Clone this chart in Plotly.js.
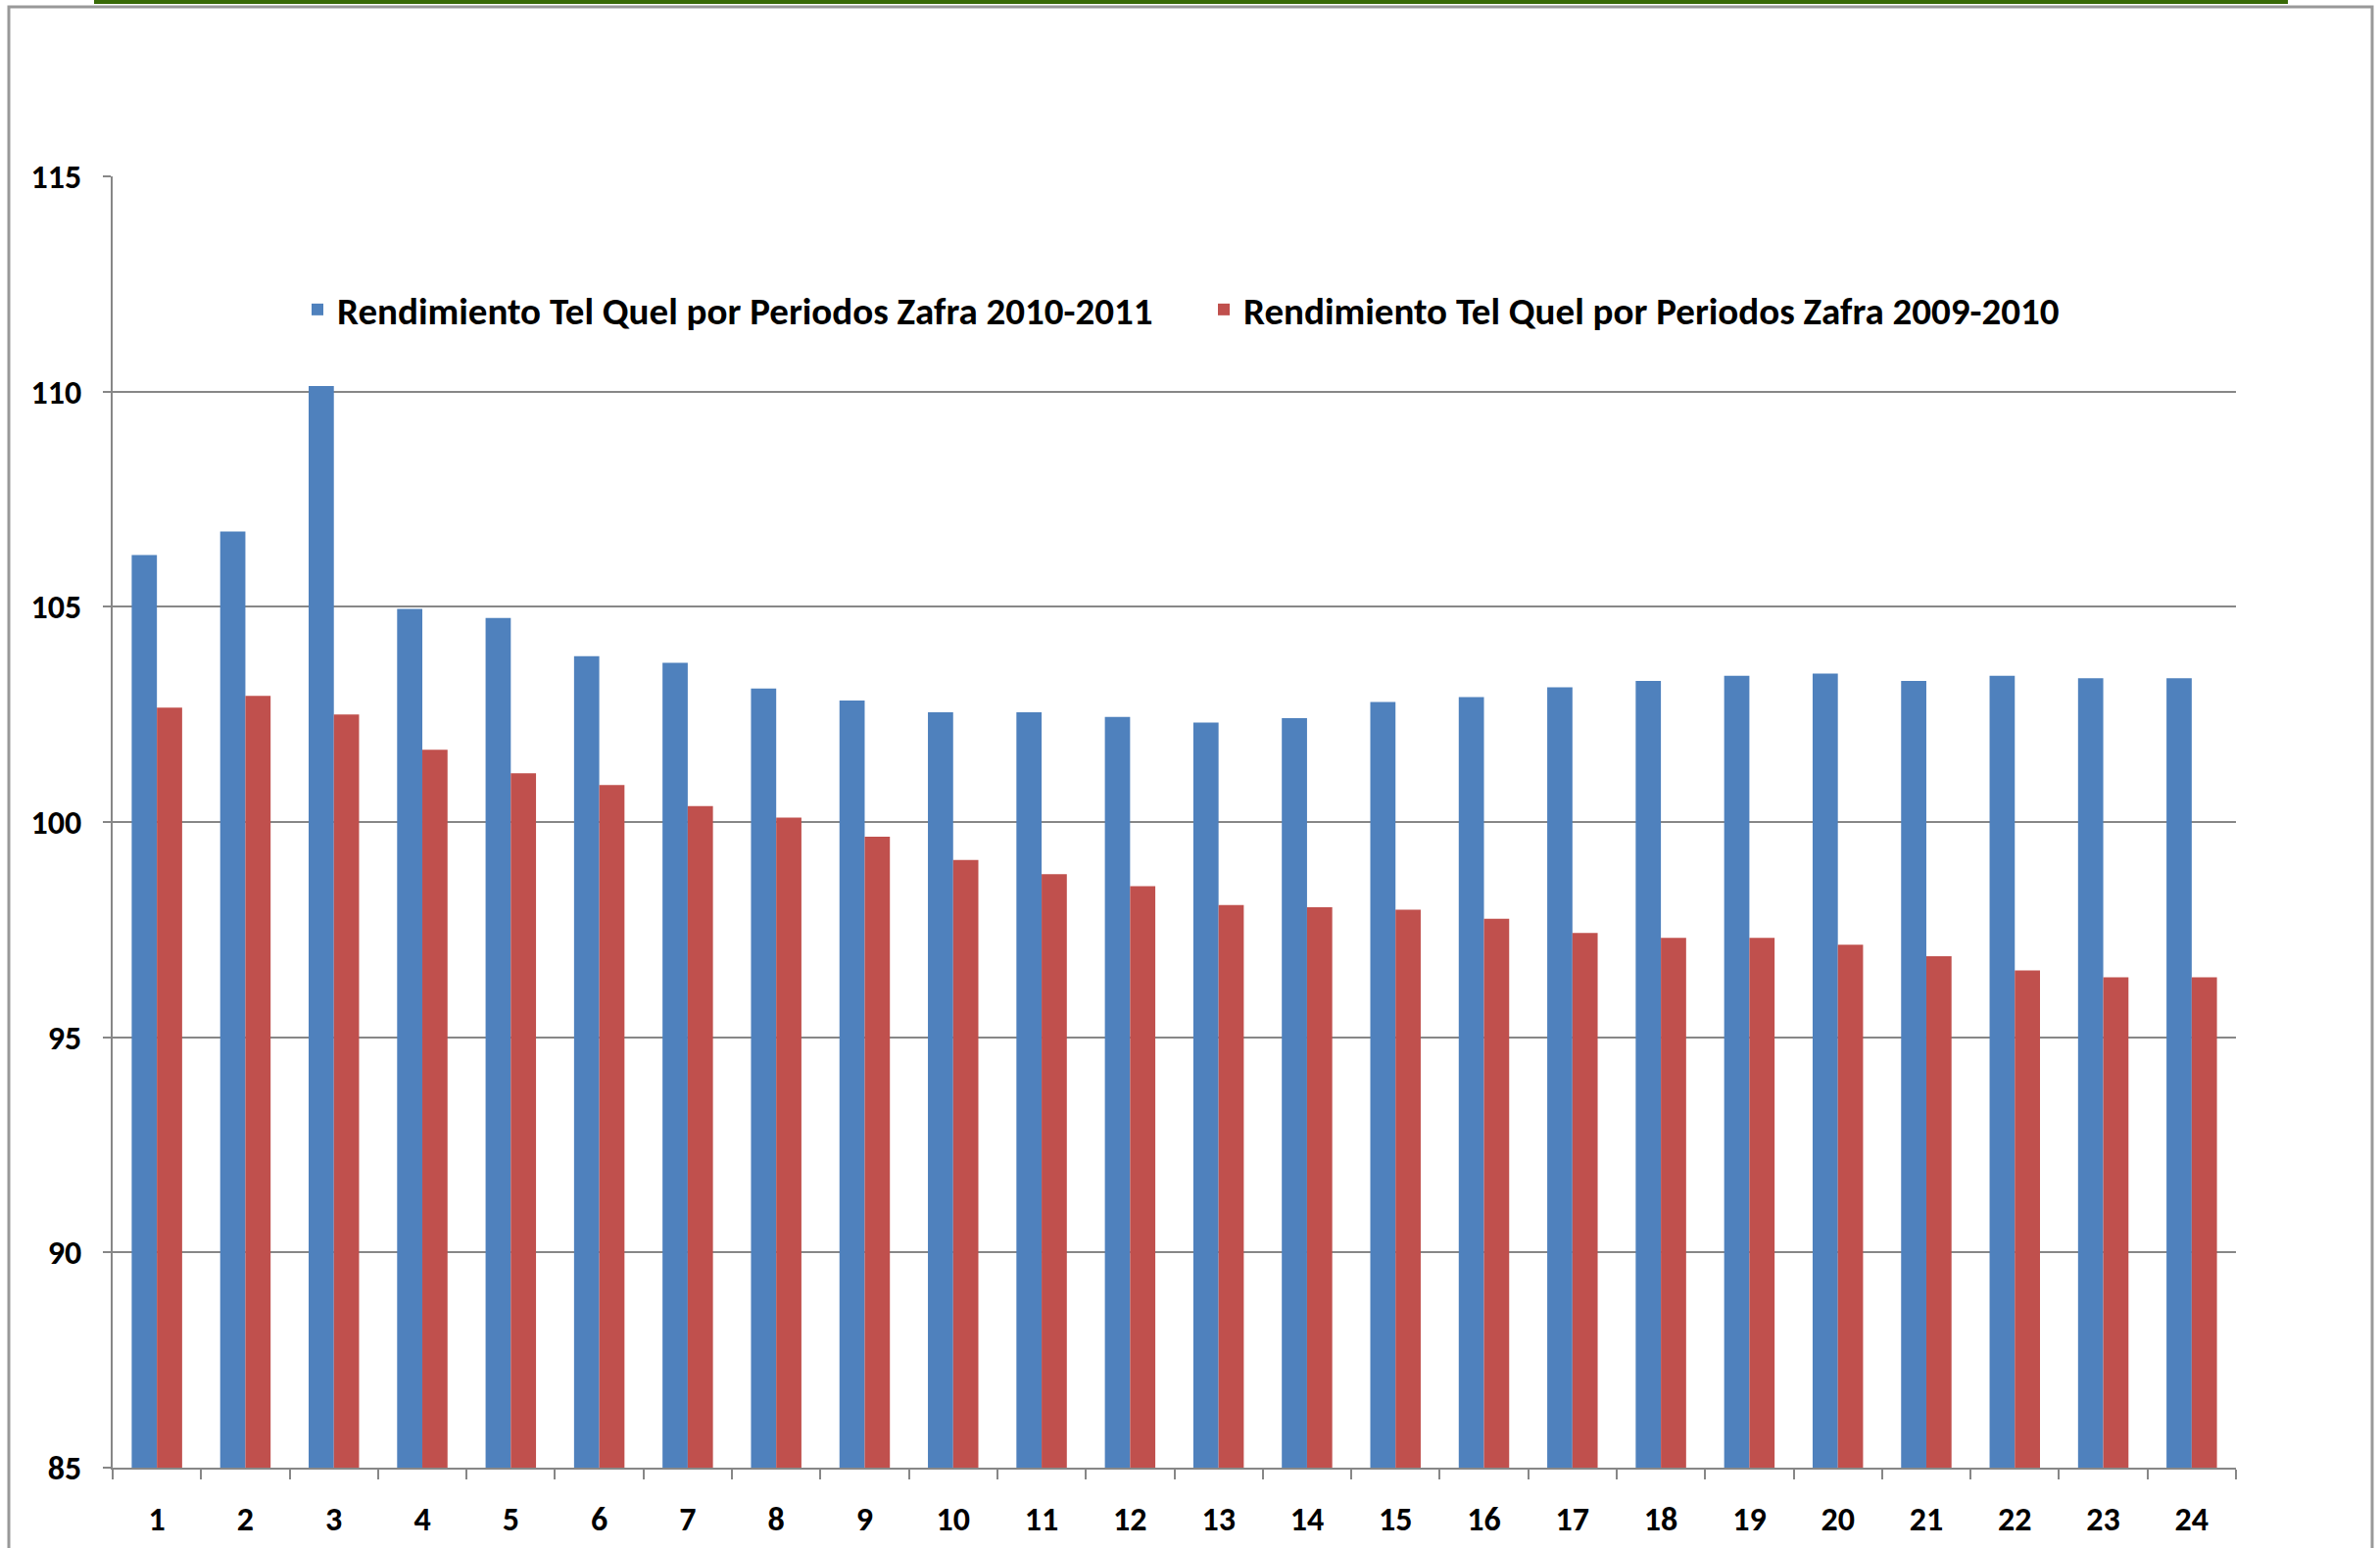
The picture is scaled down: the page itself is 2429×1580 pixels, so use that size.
<!DOCTYPE html>
<html>
<head>
<meta charset="utf-8">
<script src="https://cdn.plot.ly/plotly-3.0.1.min.js"></script>
<style>
  html, body { margin: 0; padding: 0; background: #ffffff; }
  #chart { width: 2429px; height: 1580px; }
</style>
</head>
<body>
<div id="chart"></div>
<script>
// ---- Data ----
var periodos = ["1","2","3","4","5","6","7","8","9","10","11","12","13","14","15","16","17","18","19","20","21","22","23","24"];
var serie2010_2011 = [106.20, 106.75, 110.13, 104.95, 104.74, 103.85, 103.70, 103.10, 102.82, 102.55, 102.55, 102.44,
                      102.31, 102.41, 102.79, 102.90, 103.13, 103.28, 103.40, 103.45, 103.28, 103.40, 103.34, 103.34];
var serie2009_2010 = [102.66, 102.93, 102.50, 101.68, 101.13, 100.86, 100.37, 100.10, 99.66, 99.12, 98.79, 98.51,
                      98.07, 98.02, 97.96, 97.75, 97.42, 97.31, 97.31, 97.15, 96.88, 96.55, 96.39, 96.39];
var nombre2010_2011 = "Rendimiento Tel Quel por Periodos Zafra 2010-2011";
var nombre2009_2010 = "Rendimiento Tel Quel por Periodos Zafra 2009-2010";
var yTicks = [85, 90, 95, 100, 105, 110, 115];

// ---- Layout geometry (pixels) ----
var W = 2429, H = 1580;
var mL = 115, mR = 147, mT = 180, mB = 82;
var pw = W - mL - mR, ph = H - mT - mB;
function px(x) { return (x - mL) / pw; }
function py(y) { return (H - mB - y) / ph; }

var FONT = "Carlito, Lato, 'Open Sans', sans-serif";
var gridCol = "#878787";

var traces = [
  { type: "bar", name: nombre2010_2011, x: periodos, y: serie2010_2011,
    marker: { color: "#4F81BD", line: { width: 0 } } },
  { type: "bar", name: nombre2009_2010, x: periodos, y: serie2009_2010,
    marker: { color: "#C0504D", line: { width: 0 } } }
];

var layout = {
  width: W, height: H,
  margin: { l: mL, r: mR, t: mT, b: mB, pad: 0 },
  paper_bgcolor: "#ffffff",
  plot_bgcolor: "#ffffff",
  barmode: "group",
  bargap: 0.43,
  bargroupgap: 0,
  font: { family: FONT, color: "#000000", size: 34 },
  showlegend: true,
  legend: {
    orientation: "h",
    x: px(304), xanchor: "left",
    y: py(316), yanchor: "middle",
    font: { family: FONT, size: 39, color: "#000000", weight: "bold" },
    bgcolor: "rgba(0,0,0,0)",
    entrywidth: 880,
    itemclick: false
  },
  xaxis: {
    type: "category",
    tickson: "boundaries",
    ticks: "outside", ticklen: 10, tickwidth: 2, tickcolor: gridCol,
    showline: true, linecolor: gridCol, linewidth: 2,
    showgrid: false,
    tickfont: { family: FONT, size: 34, color: "#000000", weight: "bold" },
    ticklabelstandoff: 21,
    fixedrange: true
  },
  yaxis: {
    range: [85, 115],
    tickvals: yTicks,
    ticktext: yTicks.map(String),
    ticks: "outside", ticklen: 8, tickwidth: 2, tickcolor: gridCol,
    showline: true, linecolor: gridCol, linewidth: 2,
    showgrid: true, gridcolor: gridCol, gridwidth: 2,
    zeroline: false,
    tickfont: { family: FONT, size: 34, color: "#000000", weight: "bold" },
    ticklabelstandoff: 15,
    fixedrange: true
  },
  shapes: [
    // outer frame
    { type: "rect", xref: "paper", yref: "paper",
      x0: px(9), x1: px(2421), y0: py(1700), y1: py(7),
      line: { color: "#999999", width: 3 }, fillcolor: "rgba(0,0,0,0)", layer: "below" },
    // green header bar
    { type: "rect", xref: "paper", yref: "paper",
      x0: px(96), x1: px(2335), y0: py(4), y1: py(-5),
      line: { width: 0 }, fillcolor: "#386A06", layer: "above" }
  ]
};

Plotly.newPlot("chart", traces, layout, { displayModeBar: false, staticPlot: true });
</script>
</body>
</html>
